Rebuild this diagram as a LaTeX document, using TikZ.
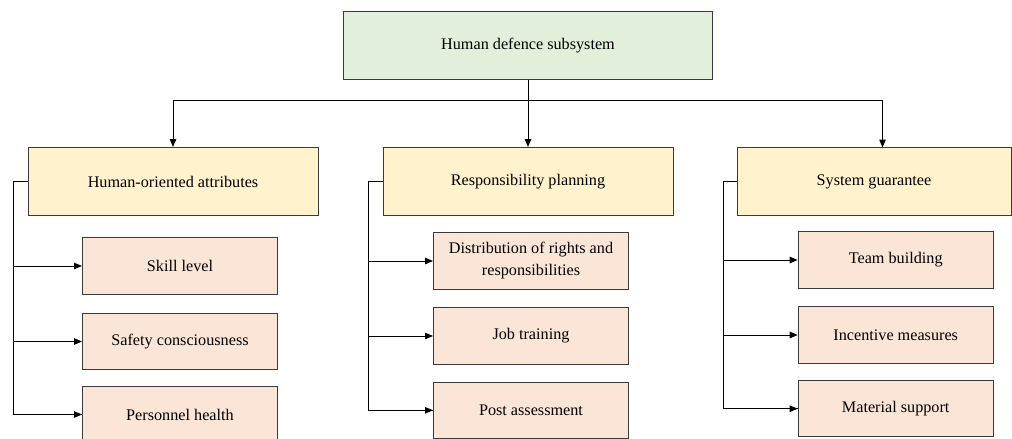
\documentclass[tikz,border=0pt]{standalone}
\usepackage{fontspec}
\setmainfont{Liberation Serif}
\usetikzlibrary{arrows.meta}
\definecolor{topfill}{HTML}{E2EFDA}
\definecolor{midfill}{HTML}{FFF2CC}
\definecolor{subfill}{HTML}{FBE5D6}
\definecolor{edge}{HTML}{3A3A3A}
\begin{document}
\begin{tikzpicture}[x=1pt,y=-1pt,
  every node/.style={font=\fontsize{16.2}{22}\selectfont, inner sep=0pt, align=center},
  boxbase/.style={draw=edge, line width=1pt, rectangle},
  topbox/.style={boxbase, fill=topfill, minimum width=369pt, minimum height=67.6pt},
  midbox/.style={boxbase, fill=midfill, minimum width=290pt, minimum height=68pt},
  subbox/.style={boxbase, fill=subfill, minimum width=195pt, minimum height=56.5pt},
  conn/.style={draw=black, line width=1pt},
  arr/.style={conn, -{Triangle[length=8pt,width=6.5pt]}}
]
\useasboundingbox (0,0) rectangle (1012,439);

\node[topbox] (top) at (528,45.5) {Human defence subsystem};

\node[midbox] (b1) at (173,181.5) {Human-oriented attributes};
\node[midbox] (b2) at (528,181.5) {Responsibility planning};
\node[midbox, minimum width=274pt] (b3) at (874,181.5) {System guarantee};

\node[subbox] (s11) at (180,266) {Skill level};
\node[subbox] (s12) at (180,341.5) {Safety consciousness};
\node[subbox] (s13) at (180,414.5) {Personnel health};

\node[subbox] (s21) at (531,261) {Distribution of rights and\\responsibilities};
\node[subbox] (s22) at (531,336) {Job training};
\node[subbox] (s23) at (531,410.3) {Post assessment};

\node[subbox] (s31) at (895.7,260) {Team building};
\node[subbox] (s32) at (895.7,335) {Incentive measures};
\node[subbox] (s33) at (895.7,408.7) {Material support};

% top-level branching
\coordinate (split) at (528,100.5);
\coordinate (b3in) at (882.5,147.5);
\draw[conn] (top.south) -- (split);
\draw[arr] (split) -| (b1.north);
\draw[arr] (split) -- (b2.north);
\draw[arr] (split) -| (b3in);

% trunks
\coordinate (t1) at (13.3,181.5);
\coordinate (t2) at (368.3,181.5);
\coordinate (t3) at (723.3,181.5);

\draw[conn] (b1.west) -- (t1) |- (s13.west);
\draw[arr] (t1 |- s11.west) -- (s11.west);
\draw[arr] (t1 |- s12.west) -- (s12.west);
\draw[arr] (t1 |- s13.west) -- (s13.west);

\draw[conn] (b2.west) -- (t2) |- (s23.west);
\draw[arr] (t2 |- s21.west) -- (s21.west);
\draw[arr] (t2 |- s22.west) -- (s22.west);
\draw[arr] (t2 |- s23.west) -- (s23.west);

\draw[conn] (b3.west) -- (t3) |- (s33.west);
\draw[arr] (t3 |- s31.west) -- (s31.west);
\draw[arr] (t3 |- s32.west) -- (s32.west);
\draw[arr] (t3 |- s33.west) -- (s33.west);
\end{tikzpicture}
\end{document}
